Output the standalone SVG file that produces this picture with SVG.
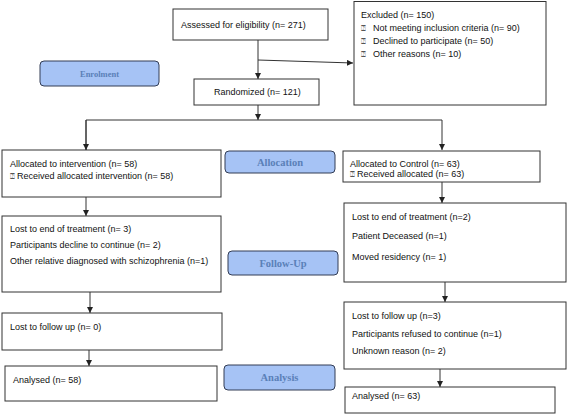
<svg xmlns="http://www.w3.org/2000/svg" width="567" height="415" viewBox="0 0 567 415">
<defs>
<marker id="ah" viewBox="0 0 8 8" refX="8" refY="4" markerWidth="6" markerHeight="6" markerUnits="userSpaceOnUse" orient="auto">
<path d="M0,0 L8,4 L0,8 z" fill="#222"/>
</marker>
<style>
.box{fill:#fff;stroke:#333;stroke-width:1}
.lbl{fill:#a6c3f5;stroke:#333d55;stroke-width:1}
.t{font-family:"Liberation Sans",Arial,sans-serif;font-size:9px;fill:#111}
.h{font-family:"Liberation Serif","Times New Roman",serif;font-weight:bold;fill:#5a80b8;text-anchor:middle}
.c{fill:none;stroke:#333;stroke-width:1}
.q{font-family:"DejaVu Sans",sans-serif;font-size:8px;fill:#555}
</style>
</defs>
<rect width="567" height="415" fill="#fff"/>
<g id="connectors">
<path class="c" d="M258,40 V79" marker-end="url(#ah)"/>
<path class="c" d="M258,60 L353,63" marker-end="url(#ah)"/>
<path class="c" d="M258,105 V120" marker-end="url(#ah)"/>
<path class="c" d="M86,150 V120 H442 V150" marker-end="url(#ah)"/>
<path class="c" d="M86,120 V150" marker-end="url(#ah)"/>
<path class="c" d="M86,197 V216" marker-end="url(#ah)"/>
<path class="c" d="M90,292 V313" marker-end="url(#ah)"/>
<path class="c" d="M89,350 V366" marker-end="url(#ah)"/>
<path class="c" d="M442,182 V203" marker-end="url(#ah)"/>
<path class="c" d="M445,282 V302" marker-end="url(#ah)"/>
<path class="c" d="M440,369 V387" marker-end="url(#ah)"/>
</g>
<g id="assessed">
<rect class="box" x="173" y="9" width="155" height="31"/>
<text class="t" x="181" y="28">Assessed for eligibility (n= 271)</text>
</g>
<g id="excluded">
<rect class="box" x="354" y="1.5" width="192" height="103.5"/>
<text class="t" x="361" y="18">Excluded (n= 150)</text>
<text class="q" x="361" y="31">⍰</text>
<text class="t" x="373" y="31">Not meeting inclusion criteria (n= 90)</text>
<text class="q" x="361" y="44">⍰</text>
<text class="t" x="373" y="44">Declined to participate (n= 50)</text>
<text class="q" x="361" y="57">⍰</text>
<text class="t" x="373" y="57">Other reasons (n= 10)</text>
</g>
<g id="enrolment">
<rect class="lbl" x="40" y="61" width="119" height="25" rx="4"/>
<text class="h" x="99.5" y="76.5" font-size="8.5">Enrolment</text>
</g>
<g id="randomized">
<rect class="box" x="194" y="79" width="125" height="26"/>
<text class="t" x="214" y="95">Randomized (n= 121)</text>
</g>
<g id="alloc-int">
<rect class="box" x="2" y="150" width="219" height="47"/>
<text class="t" x="10" y="167">Allocated to intervention (n= 58)</text>
<text class="q" x="10" y="179">⍰</text>
<text class="t" x="17" y="179">Received allocated intervention (n= 58)</text>
</g>
<g id="allocation">
<rect class="lbl" x="225" y="151" width="110" height="22" rx="4"/>
<text class="h" x="280" y="165.5" font-size="10.5">Allocation</text>
</g>
<g id="alloc-ctrl">
<rect class="box" x="343" y="151" width="197" height="31"/>
<text class="t" x="350" y="167">Allocated to Control (n= 63)</text>
<text class="q" x="350" y="177">⍰</text>
<text class="t" x="357" y="177">Received allocated (n= 63)</text>
</g>
<g id="lost-end-int">
<rect class="box" x="2" y="216" width="219" height="76"/>
<text class="t" x="10" y="232">Lost to end of treatment (n= 3)</text>
<text class="t" x="10" y="248">Participants decline to continue (n= 2)</text>
<text class="t" x="10" y="264">Other relative diagnosed with schizophrenia (n=1)</text>
</g>
<g id="lost-end-ctrl">
<rect class="box" x="344" y="203" width="222" height="79"/>
<text class="t" x="352" y="220">Lost to end of treatment (n=2)</text>
<text class="t" x="352" y="239">Patient Deceased (n=1)</text>
<text class="t" x="352" y="260">Moved residency (n= 1)</text>
</g>
<g id="followup">
<rect class="lbl" x="228" y="251" width="110" height="24" rx="4"/>
<text class="h" x="283" y="266.5" font-size="10.5">Follow-Up</text>
</g>
<g id="lost-fu-int">
<rect class="box" x="2" y="313" width="220" height="37"/>
<text class="t" x="10" y="330">Lost to follow up (n= 0)</text>
</g>
<g id="lost-fu-ctrl">
<rect class="box" x="344" y="302" width="222" height="67"/>
<text class="t" x="352" y="319">Lost to follow up (n=3)</text>
<text class="t" x="352" y="337">Participants refused to continue (n=1)</text>
<text class="t" x="352" y="354">Unknown reason (n= 2)</text>
</g>
<g id="analysis">
<rect class="lbl" x="224" y="365" width="111" height="25" rx="4"/>
<text class="h" x="279.5" y="381" font-size="10.5">Analysis</text>
</g>
<g id="analysed-int">
<rect class="box" x="5" y="366" width="212" height="35"/>
<text class="t" x="13" y="383">Analysed (n= 58)</text>
</g>
<g id="analysed-ctrl">
<rect class="box" x="345" y="387" width="210" height="26"/>
<text class="t" x="352" y="399">Analysed (n= 63)</text>
</g>
</svg>
